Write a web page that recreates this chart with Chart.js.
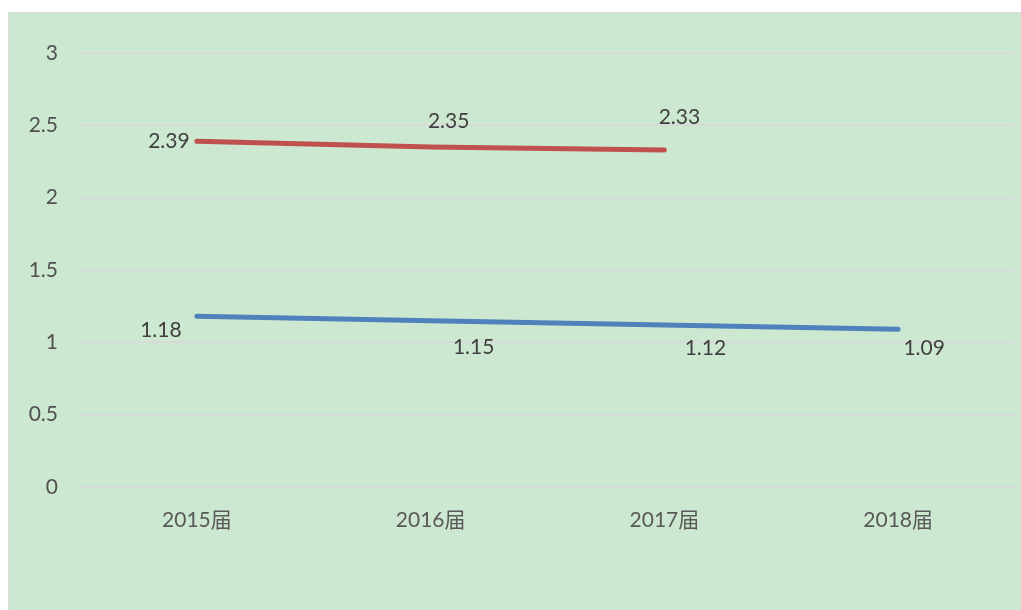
<!DOCTYPE html>
<html>
<head>
<meta charset="utf-8">
<script src="https://cdn.jsdelivr.net/npm/chart.js@4/dist/chart.umd.min.js"></script>
<style>
  html, body { margin: 0; padding: 0; background: #ffffff; }
  #wrap { width: 1021px; height: 610px; }
</style>
</head>
<body>
<div id="wrap"><canvas id="lineChart" width="1021" height="610"></canvas></div>
<script>
// categories and series values
const categories = ['2015届', '2016届', '2017届', '2018届'];
const redValues = [2.39, 2.35, 2.33, null];
const blueValues = [1.18, 1.15, 1.12, 1.09];
const yTicks = [0, 0.5, 1, 1.5, 2, 2.5, 3];

// label offsets from each point (x, y) - style only
const redLabelOffsets = [[-28, 0], [18, -26], [15, -33], [0, 0]];
const blueLabelOffsets = [[-36, 14], [43, 27], [41, 23], [26, 19]];

const fontFamily = 'Lato, "Noto Sans CJK SC", sans-serif';

// green panel behind the chart with a thin grey border
const panelBg = {
  id: 'panelBg',
  beforeDraw(chart) {
    const c = chart.ctx;
    c.save();
    c.fillStyle = '#cde8d0';
    c.fillRect(8, 12, 1013, 598);
    c.strokeStyle = '#d9d9d9';
    c.lineWidth = 1;
    c.strokeRect(8.5, 12.5, 1013, 598);
    c.restore();
  }
};

// simple value labels next to the points
const valueLabels = {
  id: 'valueLabels',
  afterDatasetsDraw(chart) {
    const c = chart.ctx;
    c.save();
    c.font = '21px ' + fontFamily;
    c.fillStyle = '#404040';
    c.textAlign = 'center';
    c.textBaseline = 'middle';
    chart.data.datasets.forEach((ds, i) => {
      const meta = chart.getDatasetMeta(i);
      meta.data.forEach((pt, j) => {
        const v = ds.data[j];
        if (v === null || v === undefined) return;
        const off = ds.labelOffsets[j];
        c.fillText(v.toFixed(2), pt.x + off[0], pt.y + off[1]);
      });
    });
    c.restore();
  }
};

const ctx = document.getElementById('lineChart');

const chart = new Chart(ctx, {
  type: 'line',
  data: {
    labels: categories,
    datasets: [{
      label: 'red',
      data: redValues,
      labelOffsets: redLabelOffsets,
      borderColor: '#c0504d',
      borderWidth: 5,
      borderCapStyle: 'round',
      pointRadius: 0,
      tension: 0
    }, {
      label: 'blue',
      data: blueValues,
      labelOffsets: blueLabelOffsets,
      borderColor: '#4f81bd',
      borderWidth: 5,
      borderCapStyle: 'round',
      pointRadius: 0,
      tension: 0
    }]
  },
  options: {
    responsive: false,
    animation: false,
    layout: { padding: { left: 0, right: 6, top: 53, bottom: 0 } },
    plugins: {
      legend: { display: false },
      tooltip: { enabled: false }
    },
    scales: {
      x: {
        offset: true,
        grid: { display: false, drawTicks: false },
        border: { display: false },
        ticks: {
          padding: 21,
          color: '#595959',
          font: { family: fontFamily, size: 21 }
        },
        afterFit(scale) { scale.height = 123; }
      },
      y: {
        min: 0,
        max: 3,
        afterBuildTicks(scale) { scale.ticks = yTicks.map(v => ({ value: v })); },
        grid: { color: '#d9d9d9', lineWidth: 2, drawTicks: false },
        border: { display: false },
        ticks: {
          padding: 22,
          color: '#505050',
          font: { family: fontFamily, size: 21 },
          callback: v => String(v)
        },
        afterFit(scale) { scale.width = 80; }
      }
    }
  },
  plugins: [panelBg, valueLabels]
});
</script>
</body>
</html>
